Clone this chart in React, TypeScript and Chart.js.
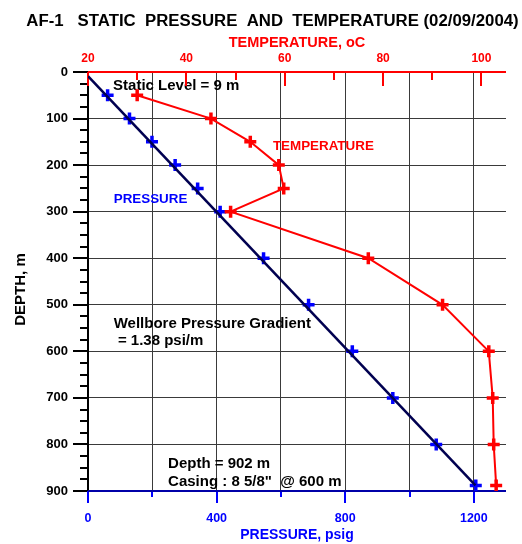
import React, { useEffect, useRef } from "react";
import { Chart, registerables } from "chart.js";

Chart.register(...registerables);

// ---- data ----
const depthM = [50, 100, 150, 200, 250, 300, 400, 500, 600, 700, 800, 888];
const pressurePsig = [61, 129, 199, 271, 341, 411, 546, 686, 822, 948, 1083, 1206];
const temperatureC = [30.0, 45.0, 53.0, 58.8, 59.8, 49.0, 77.0, 92.1, 101.5, 102.3, 102.5, 103.0];
const gradientDepth = [9, 888];
const gradientPressure = [0, 1205];

const pressureTickLabels = [0, 400, 800, 1200];
const temperatureTickLabels = [20, 40, 60, 80, 100];
const depthTickLabels = [0, 100, 200, 300, 400, 500, 600, 700, 800, 900];

const TITLE = "AF-1   STATIC  PRESSURE  AND  TEMPERATURE (02/09/2004)";
const X_TITLE = "PRESSURE, psig";
const X2_TITLE = "TEMPERATURE, oC";
const Y_TITLE = "DEPTH, m";

const FONT = '"Liberation Sans", Arial, Helvetica, sans-serif';

const BLUE = "#0000ff";
const NAVY = "#0000a8";
const RED = "#ff0000";

type Note = { text: string; p: number; d: number; color: string; size: number };
const notes: Note[] = [
  { text: "Static Level = 9 m", p: 78, d: 27, color: "#000", size: 15 },
  { text: "TEMPERATURE", p: 575, d: 158, color: RED, size: 13.4 },
  { text: "PRESSURE", p: 80, d: 270.5, color: BLUE, size: 13.4 },
  { text: "Wellbore Pressure Gradient", p: 80, d: 538, color: "#000", size: 15 },
  { text: " = 1.38 psi/m", p: 80, d: 574, color: "#000", size: 15 },
  { text: "Depth = 902 m", p: 249, d: 839, color: "#000", size: 15 },
  { text: 'Casing : 8 5/8"  @ 600 m', p: 249, d: 878, color: "#000", size: 15 },
];

const decorPlugin = {
  id: "decor",
  beforeDatasetsDraw(chart: any) {
    const { ctx, chartArea } = chart;
    const { left, right, top, bottom } = chartArea;
    const x = chart.scales.x;
    const x2 = chart.scales.x2;
    const y = chart.scales.y;
    ctx.save();
    ctx.lineCap = "butt";

    // left axis (black) with ticks every 25 m
    ctx.strokeStyle = "#000";
    ctx.lineWidth = 2;
    ctx.beginPath();
    ctx.moveTo(left, top);
    ctx.lineTo(left, bottom);
    ctx.stroke();
    for (let d = 0; d <= 900; d += 25) {
      const py = Math.round(y.getPixelForValue(d));
      const len = d % 100 === 0 ? 15 : 8;
      ctx.beginPath();
      ctx.moveTo(left - len, py);
      ctx.lineTo(left, py);
      ctx.stroke();
    }

    // annotations
    for (const n of notes) {
      ctx.font = `bold ${n.size}px ${FONT}`;
      ctx.fillStyle = n.color;
      ctx.textAlign = "left";
      ctx.textBaseline = "alphabetic";
      const px = x.getPixelForValue(n.p);
      const py = y.getPixelForValue(n.d) + n.size * 0.36;
      ctx.fillText(n.text, px, py);
    }

    // top axis (red) with inward ticks
    ctx.strokeStyle = RED;
    ctx.lineWidth = 2;
    ctx.beginPath();
    ctx.moveTo(left, top);
    ctx.lineTo(right, top);
    ctx.stroke();
    for (let t = 20; t <= 100; t += 10) {
      const px = Math.round(x2.getPixelForValue(t));
      const len = t % 20 === 0 ? 14 : 8;
      ctx.beginPath();
      ctx.moveTo(px, top);
      ctx.lineTo(px, top + len);
      ctx.stroke();
    }

    // bottom axis (blue) with outward ticks
    ctx.strokeStyle = BLUE;
    ctx.lineWidth = 2;
    for (let p = 0; p <= 1200; p += 200) {
      const px = Math.round(x.getPixelForValue(p));
      const len = p % 400 === 0 ? 12 : 6;
      ctx.beginPath();
      ctx.moveTo(px, bottom);
      ctx.lineTo(px, bottom + len);
      ctx.stroke();
    }
    ctx.strokeStyle = NAVY;
    ctx.beginPath();
    ctx.moveTo(left, bottom);
    ctx.lineTo(right, bottom);
    ctx.stroke();
    ctx.restore();
  },
  afterDraw(chart: any) {
    const { ctx, chartArea } = chart;
    ctx.save();
    ctx.fillStyle = "#000";
    ctx.font = `bold 16.8px ${FONT}`;
    ctx.textAlign = "center";
    ctx.textBaseline = "middle";
    ctx.fillText(TITLE, 272.5, 21);

    ctx.translate(21, (chartArea.top + chartArea.bottom) / 2 + 8);
    ctx.rotate(-Math.PI / 2);
    ctx.font = `bold 15px ${FONT}`;
    ctx.fillText(Y_TITLE, 0, 0);
    ctx.restore();
  },
};

export default function App() {
  const ref = useRef<HTMLCanvasElement | null>(null);

  useEffect(() => {
    if (!ref.current) return;
    const chart = new Chart(ref.current, {
      type: "scatter",
      data: {
        datasets: [
          {
            label: "PRESSURE",
            data: depthM.map((d, i) => ({ x: pressurePsig[i], y: d })),
            xAxisID: "x",
            yAxisID: "y",
            showLine: false,
            pointStyle: "cross",
            pointRadius: 6,
            pointBorderWidth: 3.5,
            borderColor: BLUE,
            backgroundColor: BLUE,
            order: 2,
          },
          {
            label: "Gradient",
            data: gradientDepth.map((d, i) => ({ x: gradientPressure[i], y: d })),
            xAxisID: "x",
            yAxisID: "y",
            showLine: true,
            pointRadius: 0,
            borderColor: "#000050",
            borderWidth: 2.5,
            order: 1,
          },
          {
            label: "TEMPERATURE",
            data: depthM.map((d, i) => ({ x: temperatureC[i], y: d })),
            xAxisID: "x2",
            yAxisID: "y",
            showLine: true,
            borderColor: RED,
            backgroundColor: RED,
            borderWidth: 2,
            pointStyle: "cross",
            pointRadius: 6,
            pointBorderWidth: 3.5,
            order: 0,
          },
        ],
      } as any,
      options: {
        responsive: false,
        animation: false,
        layout: { padding: { left: 0, right: 16, top: 0, bottom: 0 } },
        plugins: { legend: { display: false }, tooltip: { enabled: false }, title: { display: false } },
        scales: {
          x: {
            type: "linear",
            position: "bottom",
            min: 0,
            max: 1300,
            afterFit: (s: any) => {
              s.height = 53;
            },
            ticks: {
              stepSize: 200,
              includeBounds: false,
              autoSkip: false,
              maxRotation: 0,
              padding: 20.5,
              color: BLUE,
              font: { family: FONT, size: 12.5, weight: "bold" },
              callback: (v: any) => (pressureTickLabels.includes(Number(v)) ? String(v) : ""),
            },
            grid: { color: "#3a3a3a", lineWidth: 1, drawTicks: false },
            border: { display: false },
            title: {
              display: true,
              text: X_TITLE,
              color: BLUE,
              font: { family: FONT, size: 14, weight: "bold" },
              padding: { top: 0, bottom: 0.6 },
            },
          },
          x2: {
            type: "linear",
            position: "top",
            min: 20,
            max: 105,
            afterFit: (s: any) => {
              s.height = 72;
            },
            ticks: {
              stepSize: 10,
              includeBounds: false,
              autoSkip: false,
              maxRotation: 0,
              padding: 6,
              color: RED,
              font: { family: FONT, size: 12, weight: "bold" },
              callback: (v: any) => (temperatureTickLabels.includes(Number(v)) ? String(v) : ""),
            },
            grid: { drawOnChartArea: false, drawTicks: false },
            border: { display: false },
            title: {
              display: true,
              text: X2_TITLE,
              color: RED,
              font: { family: FONT, size: 14.5, weight: "bold" },
              padding: { top: 34, bottom: 0 },
            },
          },
          y: {
            type: "linear",
            position: "left",
            reverse: true,
            min: 0,
            max: 900,
            afterFit: (s: any) => {
              s.width = 88;
            },
            ticks: {
              stepSize: 100,
              autoSkip: false,
              padding: 20,
              color: "#000",
              font: { family: FONT, size: 13, weight: "bold" },
              callback: (v: any) => (depthTickLabels.includes(Number(v)) ? String(v) : ""),
            },
            grid: { color: "#3a3a3a", lineWidth: 1, drawTicks: false },
            border: { display: false },
          },
        },
      } as any,
      plugins: [decorPlugin],
    });
    return () => chart.destroy();
  }, []);

  return (
    <div style={{ position: "absolute", left: 0, top: 0, width: 522, height: 544, background: "#fff" }}>
      <canvas ref={ref} width={522} height={544} style={{ display: "block" }} />
    </div>
  );
}
